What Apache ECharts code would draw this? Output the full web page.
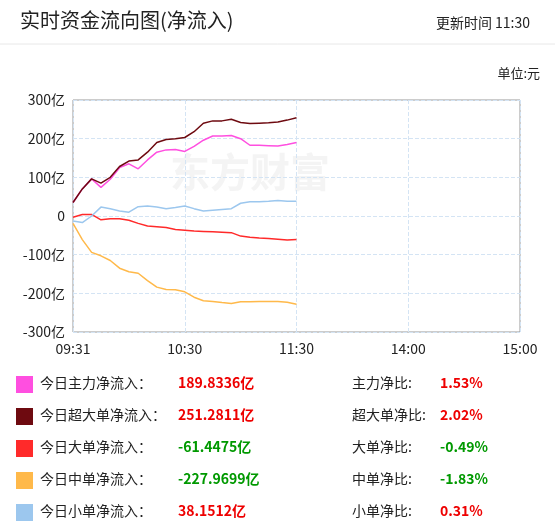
<!DOCTYPE html><html><head><meta charset="utf-8"><script src="https://cdn.jsdelivr.net/npm/echarts@6/dist/echarts.min.js"></script>
<style>body{margin:0;background:#fff}#c{width:555px;height:528px}</style></head><body><div id="c"></div><script>
const minutes=[0,5,10,15,20,25,30,35,40,45,50,55,60,65,70,75,80,85,90,95,100,105,110,115,120];
const mainNet=[35,70,96,74,95,125,135,122,145,165,171,172,167,180,196,207,207,208,200,183,183,182,181,185,190];
const superNet=[35,70,96,85,100,128,142,145,165,190,198,200,203,218,240,246,246,250,242,239,240,241,243,248,254];
const bigNet=[-3,4,4,-10,-7,-7,-11,-19,-26,-28,-30,-35,-37,-39,-40,-41,-42,-43,-52,-55,-57,-58,-60,-62,-61];
const midNet=[-19,-61,-94,-103,-115,-135,-144,-148,-167,-184,-190,-191,-196,-210,-219,-221,-224,-226,-222,-222,-221,-221,-221,-223,-228];
const smallNet=[-13,-17,0,23,19,13,10,24,26,23,19,22,26,19,13,15,17,19,33,37,37,38,40,38,38];
const xTicks={0:'09:31',60:'10:30',120:'11:30',180:'14:00',240:'15:00'};
const names=['今日主力净流入：','今日超大单净流入：','今日大单净流入：','今日中单净流入：','今日小单净流入：'];
const totals=['189.8336亿','251.2811亿','-61.4475亿','-227.9699亿','38.1512亿'];
const ratioNames=['主力净比:','超大单净比:','大单净比:','中单净比:','小单净比:'];
const ratios=['1.53%','2.02%','-0.49%','-1.83%','0.31%'];
const colors=['#ff4fe0','#6e0a10','#ff2a2a','#ffb94a','#9cc7ee'];
const series=[mainNet,superNet,bigNet,midNet,smallNet];
const F='"Microsoft YaHei","Noto Sans CJK SC",sans-serif';
const g=[
 {type:'text',left:20,top:10,style:{text:'实时资金流向图(净流入)',font:'20px '+F,fill:'#222'}},
 {type:'text',right:25,top:16,style:{text:'更新时间 11:30',font:'14px '+F,fill:'#222'}},
 {type:'line',shape:{x1:0,y1:44,x2:555,y2:44},style:{stroke:'#e8e8e8',lineWidth:1}},
 {type:'text',right:15,top:67,style:{text:'单位:元',font:'13px '+F,fill:'#222'}},
 {type:'text',left:170,top:152,style:{text:'东方财富',font:'bold 40px '+F,fill:'rgba(200,200,200,0.2)'}}
];
names.forEach((n,i)=>{
 const y=376+i*32;
 const pos=!totals[i].startsWith('-');
 g.push({type:'rect',shape:{x:16,y:y,width:17,height:17},style:{fill:colors[i]}});
 g.push({type:'text',left:40,top:y,style:{text:n,font:'14px '+F,fill:'#222'}});
 g.push({type:'text',left:178,top:y,style:{text:totals[i],font:'bold 14px '+F,fill:pos?'#e00':'#090'}});
 g.push({type:'text',left:352,top:y,style:{text:ratioNames[i],font:'14px '+F,fill:'#222'}});
 g.push({type:'text',left:440,top:y,style:{text:ratios[i],font:'bold 14px '+F,fill:ratios[i].startsWith('-')?'#090':'#e00'}});
});
const ch=echarts.init(document.getElementById('c'));
ch.setOption({animation:false,
 grid:{left:73,right:35,top:100,height:232,show:true,borderColor:'#999',borderWidth:1},
 xAxis:{type:'value',min:0,max:240,interval:60,axisLine:{show:false},axisTick:{show:false},
  axisLabel:{formatter:v=>xTicks[v]||'',color:'#222',fontSize:14,margin:10,fontFamily:F},
  splitLine:{lineStyle:{color:'#d4e4f4',type:'dashed'}}},
 yAxis:{type:'value',min:-300,max:300,interval:100,axisLine:{show:false},axisTick:{show:false},
  axisLabel:{formatter:v=>v===0?'0':v+'亿',color:'#222',fontSize:14,margin:8,fontFamily:F},
  splitLine:{lineStyle:{color:'#d4e4f4',type:'dashed'}}},
 series:series.map((d,i)=>({type:'line',showSymbol:false,smooth:false,data:d.map((v,j)=>[minutes[j],v]),lineStyle:{color:colors[i],width:1.5},itemStyle:{color:colors[i]}})),
 graphic:g});
</script></body></html>
